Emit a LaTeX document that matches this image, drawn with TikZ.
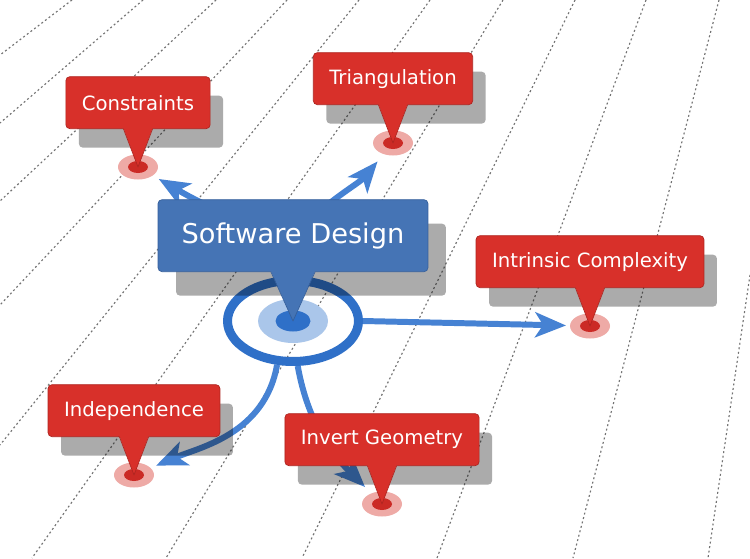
\documentclass[tikz,border=0pt]{standalone}
\usepackage{fontspec}
\setmainfont{DejaVu Sans}
\usepackage{xcolor}
\usepackage{tikz}
\usetikzlibrary{positioning, arrows.meta, shapes.geometric, shadows, calc, backgrounds}
\definecolor{calloutred}{HTML}{D8302A}
\definecolor{calloutedge}{HTML}{AF2520}
\definecolor{pinhalo}{HTML}{EEAAA6}
\definecolor{pincore}{HTML}{CB2A25}
\definecolor{designblue}{HTML}{4574B5}
\definecolor{designedge}{HTML}{36609C}
\definecolor{ringblue}{HTML}{2F70C8}
\definecolor{ringhalo}{HTML}{AAC6EA}
\definecolor{flowblue}{HTML}{4682D3}

\begin{document}
\begin{tikzpicture}[x=0.02cm, y=-0.02cm, node distance=7.6mm,
  topic/.style={fill=calloutred, draw=calloutedge, rounded corners=0.8mm, text=white,
    font=\fontsize{11.2}{13}\selectfont, inner xsep=3.2mm, inner ysep=0pt, minimum height=10.4mm,
    drop shadow={shadow xshift=2.6mm, shadow yshift=-3.8mm, fill=black, opacity=0.33}},
  hub/.style={fill=designblue, draw=designedge, rounded corners=0.8mm, text=white,
    font=\fontsize{15.5}{18}\selectfont, minimum width=54mm, minimum height=14.4mm,
    drop shadow={shadow xshift=3.6mm, shadow yshift=-4.8mm, fill=black, opacity=0.33}},
  gridline/.style={black!55, line width=0.65pt, dash pattern=on 1.1pt off 1.5pt},
  flow/.style={flowblue, line width=3.4pt, shorten >=4.8mm,
    -{Stealth[length=17.5pt, width=14.2pt, inset=4.5pt]}}]
  \useasboundingbox (0,0) rectangle (750,558);

  % pins
  \coordinate (pcons)  at (138,167);
  \coordinate (ptri)   at (393,143);
  \coordinate (pintr)  at (590,326);
  \coordinate (pindep) at (134,475);
  \coordinate (pinv)   at (382,504);
  \foreach \p in {pcons, ptri, pintr, pindep, pinv} {
    \fill[pinhalo] (\p) ellipse [x radius=4mm, y radius=2.5mm];
    \fill[pincore] (\p) ellipse [x radius=2mm, y radius=1.2mm];
  }

  % centre ring
  \node[ellipse, draw=ringblue, line width=1.8mm, minimum width=26.2mm, minimum height=16.2mm] (ring) at (293,321) {};
  \fill[ringhalo] (ring.center) ellipse [x radius=7mm, y radius=4.4mm];
  \fill[ringblue] (ring.center) ellipse [x radius=3.5mm, y radius=2.1mm];

  % main callout
  \node[hub, above=9.8mm of ring.center] (sd) {Software Design};
  \fill[designblue] ($(sd.south)+(-22,-1)$) -- (ring.center) -- ($(sd.south)+(22,-1)$) -- cycle;
  \draw[designedge, line join=round] ($(sd.south)+(-22,0)$) -- (ring.center) -- ($(sd.south)+(22,0)$);

  % topic callouts
  \node[topic, above=of pcons] (cons) {Constraints};
  \node[topic, above=of ptri] (tri) {Triangulation};
  \node[topic, above=of pintr] (intr) {Intrinsic Complexity};
  \node[topic, above=of pindep] (indep) {Independence};
  \node[topic, above=of pinv] (inv) {Invert Geometry};
  \foreach \b/\p in {cons/pcons, tri/ptri, intr/pintr, indep/pindep, inv/pinv} {
    \fill[calloutred] ($(\b.south)+(-14.5,-1)$) -- (\p) -- ($(\b.south)+(14.5,-1)$) -- cycle;
    \draw[calloutedge, line join=round] ($(\b.south)+(-14.5,0)$) -- (\p) -- ($(\b.south)+(14.5,0)$);
  }

  \begin{pgfonlayer}{background}
    \fill[white] (0,0) rectangle (750,558);
    \foreach \t/\l in {72/55, 143/123, 216/201, 287/305, 359/445}
      \draw[gridline] (\t,0) -- (0,\l);
    \foreach \t/\b in {430/32, 503/166, 575/302, 646/437, 719/573}
      \draw[gridline] (\t,0) -- (\b,558);
    \draw[gridline] (750,275) -- (708,558);
    % links
    \draw[flow] (sd.center) to[out=165, in=-30] (pcons);
    \draw[flow] (sd.center) to[out=45, in=-130] (ptri);
    \draw[flow] (ring.east) -- (pintr);
    \draw[flow] (ring.250) to[out=-100, in=23] (pindep);
    \draw[flow] (ring.276) to[out=-80, in=135] (pinv);
  \end{pgfonlayer}
\end{tikzpicture}
\end{document}
